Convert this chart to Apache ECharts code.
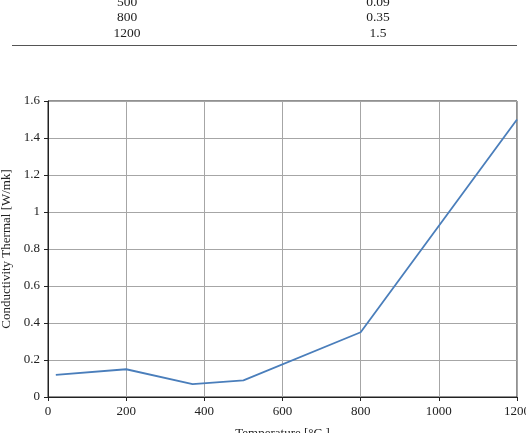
<!DOCTYPE html>
<html>
<head>
<meta charset="utf-8">
<script src="https://cdn.jsdelivr.net/npm/echarts@6/dist/echarts.min.js"></script>
<style>
  html, body { margin: 0; padding: 0; background: #fff; }
  #container { width: 526px; height: 433px; }
</style>
</head>
<body>
<div id="container"></div>
<script>
// table rows shown above the chart (partly cut off)
var tableTemps = ['500', '800', '1200'];
var tableValues = ['0.09', '0.35', '1.5'];

// chart data
var temperatures = [20, 200, 370, 500, 800, 1200];
var conductivity = [0.12, 0.15, 0.07, 0.09, 0.35, 1.5];

var FONT = '"Liberation Serif", "DejaVu Serif", serif';

var seriesData = temperatures.map(function (t, i) { return [t, conductivity[i]]; });

// table text as graphic elements
var graphics = [];
var rowY = [2, 17, 33];
tableTemps.forEach(function (t, i) {
    graphics.push({
        type: 'text', x: 127, y: rowY[i],
        style: { text: t, font: '13.5px ' + FONT, fill: '#222', align: 'center', verticalAlign: 'middle' }
    });
    graphics.push({
        type: 'text', x: 378, y: rowY[i],
        style: { text: tableValues[i], font: '13.5px ' + FONT, fill: '#222', align: 'center', verticalAlign: 'middle' }
    });
});
graphics.push({
    type: 'line',
    shape: { x1: 12, y1: 45.5, x2: 517, y2: 45.5 },
    style: { stroke: '#555', lineWidth: 1 }
});

var myChart = echarts.init(document.getElementById('container'));
var option = {
    animation: false,
    backgroundColor: '#fff',
    graphic: graphics,
    grid: {
        left: 48, right: 9, top: 101, bottom: 36,
        outerBoundsMode: 'none', containLabel: false,
        show: true, borderColor: '#222', borderWidth: 1
    },
    xAxis: {
        type: 'value', min: 0, max: 1200, interval: 200,
        name: 'Temperature [°C ]', nameLocation: 'middle', nameGap: 30,
        nameTextStyle: { fontFamily: FONT, fontSize: 13, color: '#222' },
        axisLine: { show: true, lineStyle: { color: '#222' } },
        axisTick: { show: true, length: 4, lineStyle: { color: '#222' } },
        axisLabel: {
            fontFamily: FONT, fontSize: 13, color: '#222', margin: 8,
            formatter: function (v) { return String(v); }
        },
        splitLine: { show: true, lineStyle: { color: '#a6a6a6', width: 1 } }
    },
    yAxis: {
        type: 'value', min: 0, max: 1.6, interval: 0.2,
        name: 'Conductivity Thermal [W/mk]', nameLocation: 'middle', nameGap: 33,
        nameTextStyle: { fontFamily: FONT, fontSize: 13, color: '#222' },
        axisLine: { show: true, lineStyle: { color: '#222' } },
        axisTick: { show: true, length: 4, lineStyle: { color: '#222' } },
        axisLabel: {
            fontFamily: FONT, fontSize: 13, color: '#222', margin: 8,
            formatter: function (v) { return String(Math.round(v * 10) / 10); }
        },
        splitLine: { show: true, lineStyle: { color: '#a6a6a6', width: 1 } }
    },
    series: [{
        type: 'line',
        data: seriesData,
        showSymbol: false,
        lineStyle: { color: '#4a7ebb', width: 1.8 },
        itemStyle: { color: '#4a7ebb' }
    }]
};
myChart.setOption(option);
</script>
</body>
</html>
